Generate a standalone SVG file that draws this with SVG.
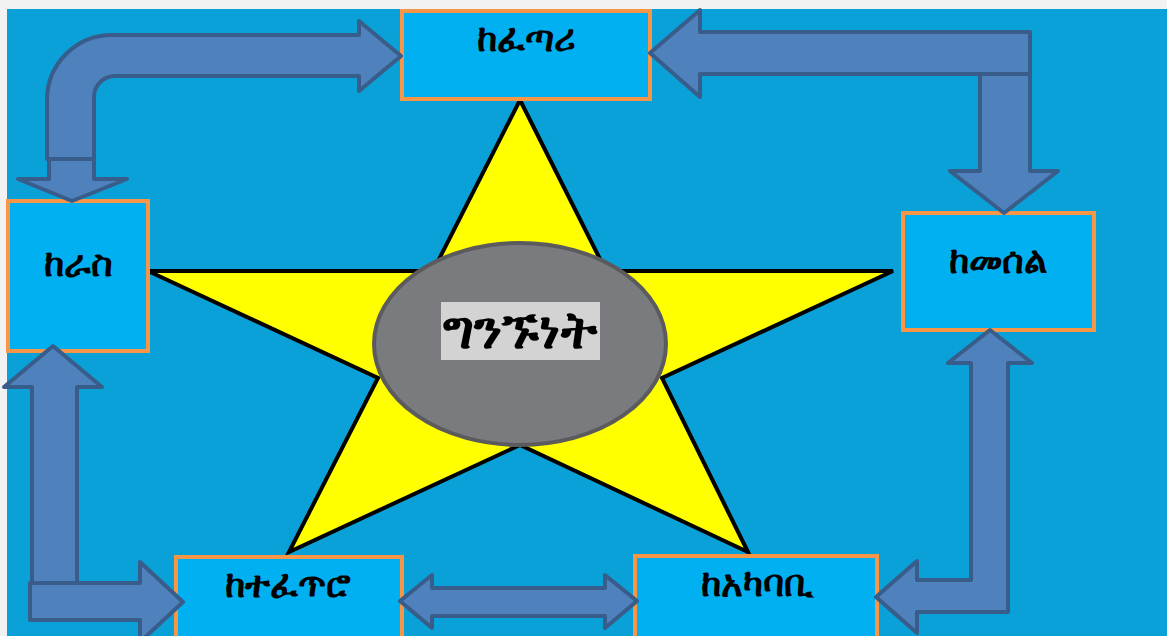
<svg xmlns="http://www.w3.org/2000/svg" width="1167" height="636" viewBox="0 0 1167 636">
<style>
.node{fill:#00b0f0;stroke:#f79646;stroke-width:4}
.arr{fill:#4f81bd;stroke:#385d8a;stroke-width:4;stroke-linejoin:round}
.lbl{font-family:"Noto Sans","DejaVu Sans",sans-serif;font-weight:bold;font-size:37px;fill:#000;text-anchor:middle}
</style>
<rect x="0" y="0" width="1167" height="636" fill="#f2f2f2"/>
<rect x="7" y="9" width="1160" height="627" fill="#0aa1d9"/>
<g id="star">
<polygon points="520,100 606,271 893,271 662,378 748,552 520,445 289,552 378,378 148,271 433,271" fill="#ffff00" stroke="#000" stroke-width="4" stroke-linejoin="miter"/>
</g>
<g id="center">
<ellipse cx="520" cy="344" rx="146" ry="101" fill="#7a7b7f" stroke="#5b5b5e" stroke-width="4"/>
<rect x="441" y="302" width="159" height="58" fill="#d3d3d3"/>
<text class="lbl" x="520" y="348" style="font-size:52px" textLength="154" lengthAdjust="spacingAndGlyphs">ግንኙነት</text>
</g>
<g id="node-top">
<rect class="node" x="402" y="11" width="248" height="88"/>
<text class="lbl" x="526" y="51">ከፈጣሪ</text>
</g>
<g id="node-left">
<rect class="node" x="8" y="201" width="140" height="150"/>
<text class="lbl" x="78" y="276">ከራስ</text>
</g>
<g id="node-right">
<rect class="node" x="903" y="213" width="191" height="117"/>
<text class="lbl" x="998" y="273">ከመሰል</text>
</g>
<g id="node-bottom-left">
<rect class="node" x="176" y="557" width="226" height="90"/>
<text class="lbl" x="288" y="597">ከተፈጥሮ</text>
</g>
<g id="node-bottom-right">
<rect class="node" x="635" y="556" width="242" height="90"/>
<text class="lbl" x="757" y="596">ከአካባቢ</text>
</g>
<g id="connectors">
<path class="arr" d="M47 159 L47 100 A65 65 0 0 1 112 35 L359 35 L359 21 L401 56 L359 91 L359 76 L115 76 A21 21 0 0 0 94 97 L94 159 Z"/>
<path class="arr" d="M49 159 L94 159 L94 179 L127 179 L72 201 L18 179 L49 179 Z"/>
<path class="arr" d="M980 74 L1030 74 L1030 171 L1058 171 L1004 213 L950 171 L980 171 Z"/>
<path class="arr" d="M650 53 L700 10 L700 32 L1030 32 L1030 74 L700 74 L700 97 Z"/>
<path class="arr" d="M53 346 L102 387 L77 387 L77 583 L32 583 L32 387 L4 387 Z"/>
<path class="arr" d="M30 583 L140 583 L140 562 L183 602 L140 642 L140 620 L30 620 Z"/>
<path class="arr" d="M990 330 L1032 363 L1008 363 L1008 612 L917 612 L917 633 L876 597 L917 561 L917 580 L971 580 L971 363 L948 363 Z"/>
<path class="arr" d="M400 601 L432 575 L432 588 L605 588 L605 575 L637 601 L605 628 L605 616 L432 616 L432 628 Z"/>
</g>
</svg>
